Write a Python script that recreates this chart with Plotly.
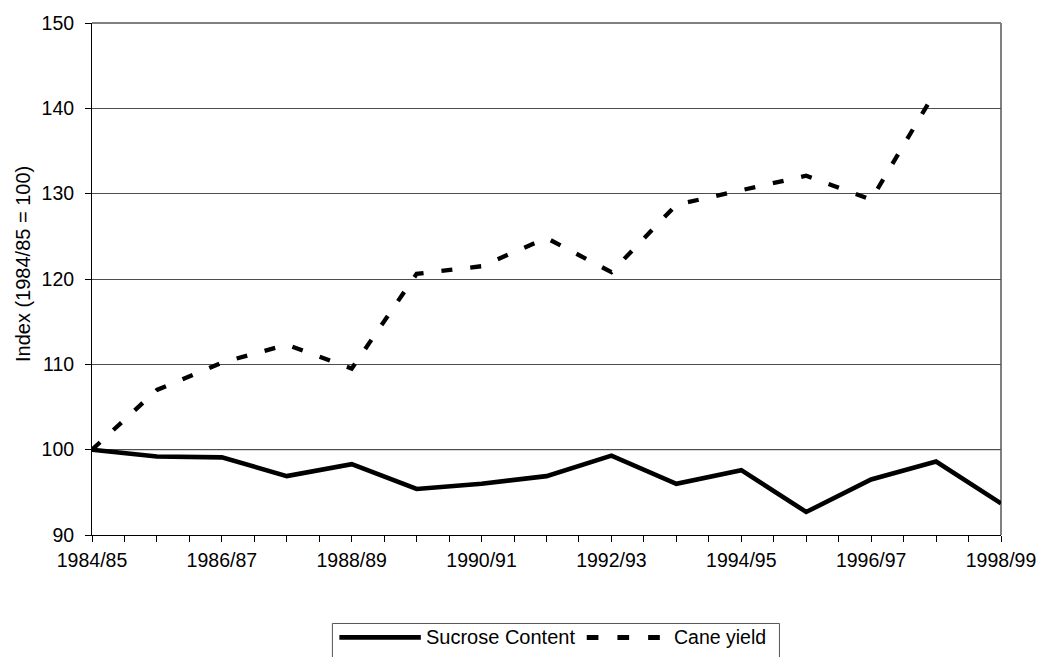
import plotly.graph_objects as go

# Seasons on the category axis
seasons = ["1984/85", "1985/86", "1986/87", "1987/88", "1988/89", "1989/90",
           "1990/91", "1991/92", "1992/93", "1993/94", "1994/95", "1995/96",
           "1996/97", "1997/98", "1998/99"]

# Index values (1984/85 = 100)
sucrose_content = [100.0, 99.2, 99.1, 96.9, 98.3, 95.4, 96.0, 96.9, 99.3,
                   96.0, 97.6, 92.7, 96.5, 98.6, 93.7]
cane_yield = [100.0, 107.0, 110.2, 112.3, 109.5, 120.6, 121.5, 124.8, 120.8,
              128.7, 130.4, 132.1, 129.3, 142.1, None]

y_ticks = [90, 100, 110, 120, 130, 140, 150]

W, H = 1048, 657
ML, MR, MT, MB = 92, 41, 20, 122
PW, PH = W - ML - MR, H - MT - MB
FONT = "Liberation Sans, Arial, sans-serif"


def px_x(px):
    return (px - ML) / PW


def px_y(py):
    return (H - MB - py) / PH


idx = list(range(len(seasons)))

fig = go.Figure()
fig.add_trace(go.Scatter(
    x=idx, y=sucrose_content, mode="lines", name="Sucrose Content",
    line=dict(color="black", width=4.6), showlegend=False,
))
fig.add_trace(go.Scatter(
    x=idx, y=cane_yield, mode="lines", name="Cane yield",
    line=dict(color="black", width=4.3, dash="11px,18px"), showlegend=False,
))

# ticks every half season, labels on every second season
tick_pos = [i / 2 for i in range(2 * (len(seasons) - 1) + 1)]
tick_txt = [seasons[int(p)] if p == int(p) and int(p) % 2 == 0 else "" for p in tick_pos]

fig.update_xaxes(
    range=[0, len(seasons) - 1], tickmode="array", tickvals=tick_pos, ticktext=tick_txt,
    showline=True, linecolor="black", linewidth=1,
    ticks="outside", ticklen=6, tickcolor="black", tickwidth=1,
    showgrid=False, zeroline=False,
    tickfont=dict(family=FONT, size=19.5, color="black"),
    ticklabelstandoff=2,
)
fig.update_yaxes(
    range=[y_ticks[0], y_ticks[-1]], tickmode="array", tickvals=y_ticks,
    showline=True, linecolor="black", linewidth=1,
    ticks="outside", ticklen=6, tickcolor="black", tickwidth=1,
    showgrid=True, gridcolor="#4d4d4d", gridwidth=1, zeroline=False,
    tickfont=dict(family=FONT, size=19.5, color="black"),
    ticklabelstandoff=7,
)

shapes = [
    # baseline index level
    dict(type="line", xref="paper", yref="y", x0=0, x1=1, y0=100, y1=100,
         line=dict(color="black", width=1), layer="between"),
    # plot frame: top and right
    dict(type="line", xref="paper", yref="paper", x0=0, x1=1, y0=1, y1=1,
         line=dict(color="black", width=1), layer="between"),
    dict(type="line", xref="paper", yref="paper", x0=1, x1=1, y0=0, y1=1,
         line=dict(color="#808080", width=2), layer="between"),
    # legend box
    dict(type="rect", xref="paper", yref="paper",
         x0=px_x(334), x1=px_x(784), y0=px_y(624), y1=px_y(680),
         line=dict(color="#555555", width=1), fillcolor="white", layer="above"),
    # legend samples
    dict(type="line", xref="paper", yref="paper",
         x0=px_x(341), x1=px_x(423), y0=px_y(638), y1=px_y(638),
         line=dict(color="black", width=4.6), layer="above"),
    dict(type="line", xref="paper", yref="paper",
         x0=px_x(590), x1=px_x(664), y0=px_y(638), y1=px_y(638),
         line=dict(color="black", width=5, dash="11.7px,19px"), layer="above"),
]

annotations = [
    dict(text="Sucrose Content", xref="paper", yref="paper", x=px_x(426), y=px_y(638),
         xanchor="left", yanchor="middle", showarrow=False,
         font=dict(family=FONT, size=20, color="black")),
    dict(text="Cane yield", xref="paper", yref="paper", x=px_x(676), y=px_y(638),
         xanchor="left", yanchor="middle", showarrow=False,
         font=dict(family=FONT, size=19.5, color="black")),
    dict(text="Index (1984/85 = 100)", xref="paper", yref="paper",
         x=px_x(22), y=px_y(262), xanchor="center", yanchor="middle",
         textangle=-90, showarrow=False,
         font=dict(family=FONT, size=20, color="black")),
]

fig.update_layout(
    width=W, height=H,
    margin=dict(l=ML, r=MR, t=MT, b=MB),
    paper_bgcolor="white", plot_bgcolor="white",
    shapes=shapes, annotations=annotations,
    showlegend=False,
)

fig.write_html("out.html")
